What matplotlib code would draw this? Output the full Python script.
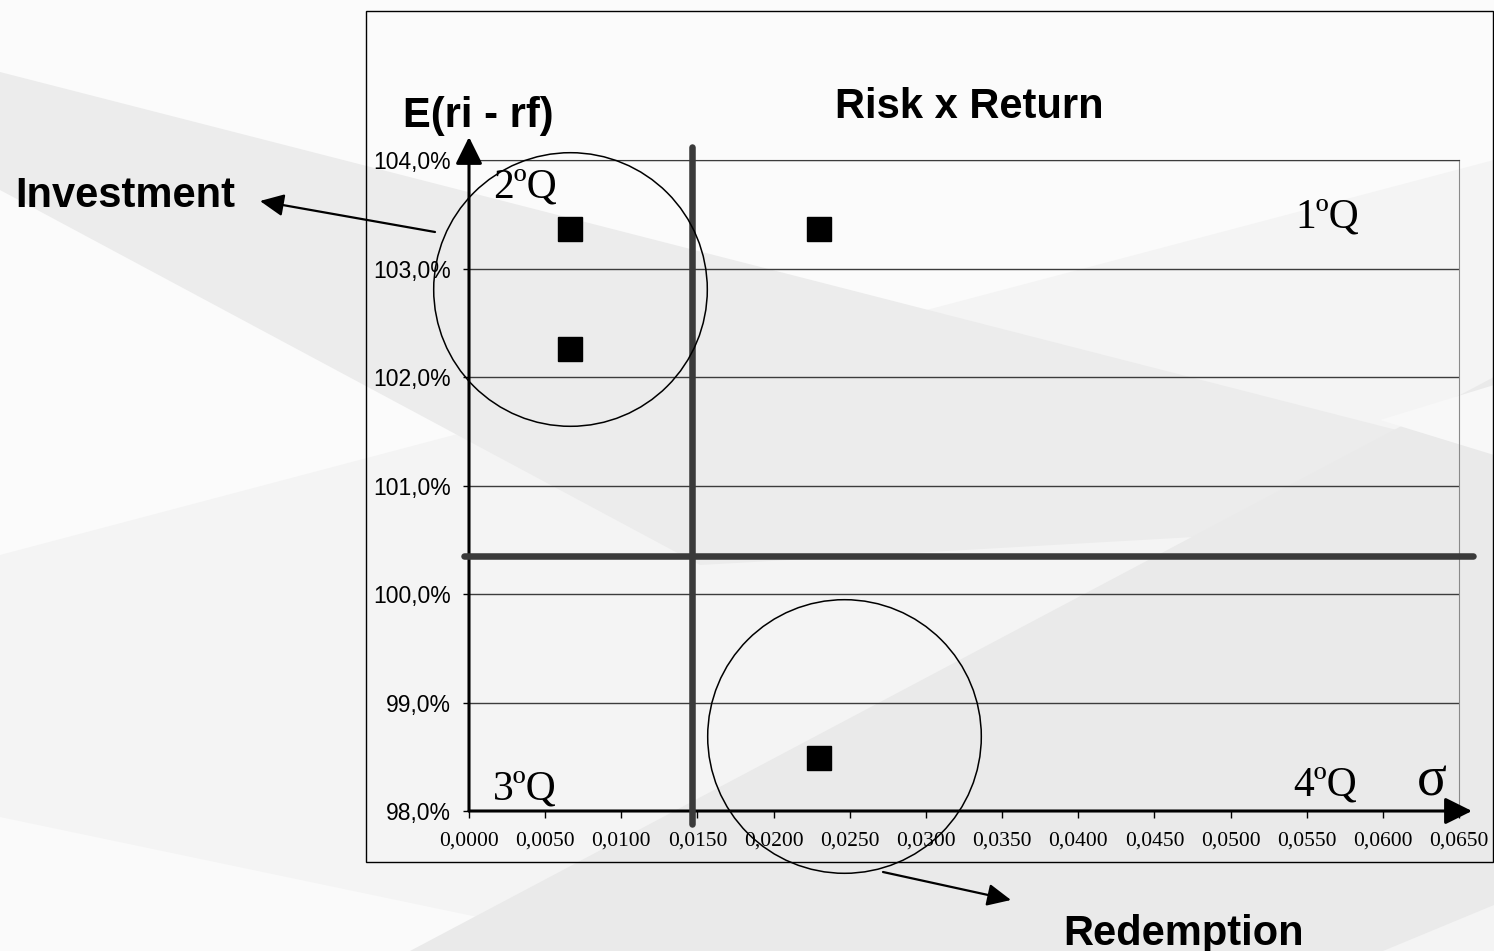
import matplotlib.pyplot as plt
from matplotlib.patches import Polygon, Rectangle

# Risk x Return quadrant chart

# portfolio points: sigma vs E(ri - rf) in %
sigma = [0.0066, 0.0066, 0.0230, 0.0230]
excess_return = [103.36, 102.26, 103.36, 98.49]

# quadrant split lines (mean sigma / mean return)
vline_x = [0.01464, 0.01464]
vline_y = [97.88, 104.12]
hline_x = [-0.0003, 0.0659]
hline_y = [100.35, 100.35]

# highlighted groups (circle centres)
circle_x = [0.00666, 0.02459]
circle_y = [102.81, 98.69]

x_ticks = [0.0000, 0.0050, 0.0100, 0.0150, 0.0200, 0.0250, 0.0300,
           0.0350, 0.0400, 0.0450, 0.0500, 0.0550, 0.0600, 0.0650]
y_ticks = [98.0, 99.0, 100.0, 101.0, 102.0, 103.0, 104.0]

W, H = 1494, 951
fig = plt.figure(figsize=(W / 100, H / 100), dpi=100)
fig.patch.set_facecolor('#fbfbfb')

sans = ['Liberation Sans', 'DejaVu Sans']
serif = ['Liberation Serif', 'DejaVu Serif']

# background layer in pixel coordinates
bg = fig.add_axes([0, 0, 1, 1], zorder=0)
bg.set_xlim(0, W)
bg.set_ylim(H, 0)
bg.axis('off')

bg.add_patch(Polygon([(0, 555), (W, 160), (W, H), (0, H)], color='#f4f4f4', lw=0))
bg.add_patch(Polygon([(0, 817), (640, H), (0, H)], color='#fafafa', lw=0))
bg.add_patch(Polygon([(0, 72), (W, 455), (W, 520), (700, 565), (0, 190)], color='#ececec', lw=0))
bg.add_patch(Polygon([(410, H), (W, 377), (W, 905), (1383, H)], color='#eaeaea', lw=0))
bg.add_patch(Polygon([(1380, 420), (W, 385), (W, 455)], color='#f8f8f8', lw=0))

# chart frame
bg.add_patch(Rectangle((366, 11), 1127, 851, fill=False, edgecolor='black', lw=1))

# main plot
ax = fig.add_axes([469 / W, (H - 811) / H, 990 / W, 651 / H], zorder=1)
ax.set_facecolor('none')
ax.set_xlim(0, 0.065)
ax.set_ylim(98, 104)

ax.plot(sigma, excess_return, 's', color='black', markersize=17, zorder=5)
ax.plot(vline_x, vline_y, color='#3a3a3a', lw=4.7, solid_capstyle='round', clip_on=False, zorder=4)
ax.plot(hline_x, hline_y, color='#3a3a3a', lw=4.7, solid_capstyle='round', clip_on=False, zorder=4)
ax.plot(circle_x, circle_y, 'o', markersize=197, markerfacecolor='none',
        markeredgecolor='black', markeredgewidth=1.1, clip_on=False, zorder=6)

ax.set_xticks(x_ticks)
ax.set_xticklabels([f"{v:.4f}".replace('.', ',') for v in x_ticks], fontfamily=serif, fontsize=15.5)
ax.set_yticks(y_ticks)
ax.set_yticklabels([f"{v:.1f}".replace('.', ',') + '%' for v in y_ticks], fontfamily=sans, fontsize=16.5)
ax.tick_params(axis='y', length=4, width=1, pad=9, colors='black')
ax.tick_params(axis='x', length=5, width=1, pad=10, colors='black')
ax.yaxis.grid(True, color='#3c3c3c', lw=1)

for s in ['left', 'bottom']:
    ax.spines[s].set_visible(False)
ax.spines['top'].set_color('#3c3c3c')
ax.spines['right'].set_color('#8a8a8a')

# axis arrows
head = 'head_length=1.65,head_width=0.82'
ax.annotate('', xy=(0, 1.0353), xytext=(0, 0), xycoords='axes fraction',
            arrowprops=dict(arrowstyle='-|>,' + head, lw=2.2, color='black',
                            mutation_scale=10, shrinkA=0, shrinkB=0),
            annotation_clip=False)
ax.annotate('', xy=(1.0131, 0), xytext=(0, 0), xycoords='axes fraction',
            arrowprops=dict(arrowstyle='-|>,' + head, lw=2.2, color='black',
                            mutation_scale=10, shrinkA=0, shrinkB=0),
            annotation_clip=False)

# titles and labels (pixel positions)
bold = dict(fontfamily=sans, fontsize=30, fontweight='bold', va='baseline')
bg.text(969, 118, 'Risk x Return', ha='center', **bold)
bg.text(403, 127, 'E(ri - rf)', ha='left', **bold)
bg.text(15, 207, 'Investment', ha='left', **bold)
bg.text(1063, 945, 'Redemption', ha='left', **bold)

quad = dict(fontfamily=serif, fontsize=30, va='baseline', ha='left', zorder=3)
bg.text(493, 197, '2ºQ', **quad)
bg.text(1295, 227, '1ºQ', **quad)
bg.text(493, 799, '3ºQ', **quad)
bg.text(1293, 795, '4ºQ', **quad)
bg.text(1417, 795, 'σ', fontfamily=serif, fontsize=40, va='baseline', ha='left')

# callout arrows
call = dict(arrowstyle='-|>,head_length=1.45,head_width=0.68', lw=1.6, color='black',
            mutation_scale=10, shrinkA=0, shrinkB=0)
bg.annotate('', xy=(260, 201), xytext=(435, 232), arrowprops=call)
bg.annotate('', xy=(1011, 900), xytext=(883, 872), arrowprops=call)

fig.savefig('out.png', dpi=100, facecolor=fig.get_facecolor())
